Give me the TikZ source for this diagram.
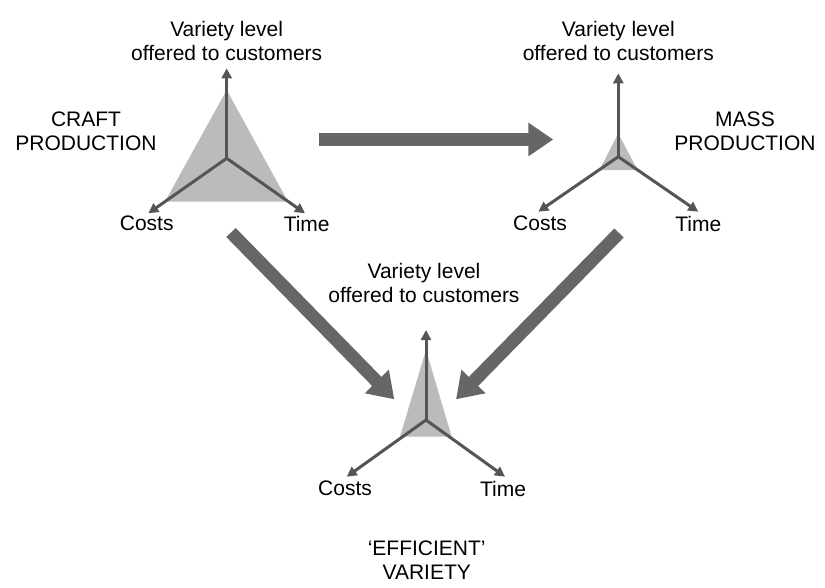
\documentclass[tikz,border=0pt]{standalone}
\usepackage{fontspec}
\setmainfont{Liberation Sans}
\usetikzlibrary{arrows.meta}
\definecolor{axisgray}{HTML}{555555}
\definecolor{fatgray}{HTML}{666666}
\definecolor{trigray}{HTML}{BBBBBB}
\tikzset{
  axis/.style={draw=axisgray, line width=3pt, -{Triangle[width=10pt,length=10pt]}},
  fat/.style={draw=fatgray, line width=13pt, line cap=butt, -{Triangle[width=32pt,length=25pt]}},
  tri/.style={fill=trigray, draw=none},
  lbl/.style={font=\fontsize{21}{24}\selectfont, align=center, inner sep=0pt, text=black},
}
\begin{document}
\begin{tikzpicture}[x=1pt,y=-1pt]
\useasboundingbox (0,0) rectangle (825,587);
\fill[white] (0,0) rectangle (825,587);

% ---- Craft production ----
\coordinate (c0) at (226.7,158.3);
\coordinate (cv) at (226.7,68.3);
\coordinate (cc) at (148.3,213.3);
\coordinate (ct) at (305,213.3);
\fill[tri] (226.7,90) -- (165,201.7) -- (288,201.7) -- cycle;
\draw[axis] (c0) -- (cv);
\draw[axis] (c0) -- (cc);
\draw[axis] (c0) -- (ct);
\node[lbl] (cvl) at (226.7,41) {Variety level\\offered to customers};
\node[lbl] (ccl) at (146.7,223.5) {Costs};
\node[lbl] (ctl) at (306.7,223.5) {Time};
\node[lbl] (cname) at (86,131) {CRAFT\\PRODUCTION};

% ---- Mass production ----
\coordinate (m0) at (618.3,156.7);
\coordinate (mv) at (618.3,73.3);
\coordinate (mc) at (538.3,211.7);
\coordinate (mt) at (698.3,211.7);
\fill[tri] (618.3,133.3) -- (599.5,170) -- (637.5,170) -- cycle;
\draw[axis] (m0) -- (mv);
\draw[axis] (m0) -- (mc);
\draw[axis] (m0) -- (mt);
\node[lbl] (mvl) at (618.3,41) {Variety level\\offered to customers};
\node[lbl] (mcl) at (540,223.5) {Costs};
\node[lbl] (mtl) at (698.3,223.5) {Time};
\node[lbl] (mname) at (745,131) {MASS\\PRODUCTION};

% ---- Efficient variety ----
\coordinate (e0) at (426,420);
\coordinate (ev) at (426,330);
\coordinate (ec) at (346.7,476.7);
\coordinate (et) at (505,476.7);
\fill[tri] (426,350) -- (400,436.7) -- (451.7,436.7) -- cycle;
\draw[axis] (e0) -- (ev);
\draw[axis] (e0) -- (ec);
\draw[axis] (e0) -- (et);
\node[lbl] (evl) at (424,283) {Variety level\\offered to customers};
\node[lbl] (ecl) at (345,488.5) {Costs};
\node[lbl] (etl) at (503,488.5) {Time};
\node[lbl] (ename) at (426.7,560) {‘EFFICIENT’\\VARIETY};

% ---- Fat transition arrows ----
\coordinate (h1) at (319.3,139.5);
\coordinate (h2) at (553.3,139.5);
\coordinate (l1) at (231,232.5);
\coordinate (l2) at (394.3,399.3);
\coordinate (r1) at (619,233);
\coordinate (r2) at (456,399.3);
\draw[fat] (h1) -- (h2);
\draw[fat] (l1) -- (l2);
\draw[fat] (r1) -- (r2);
\end{tikzpicture}
\end{document}
